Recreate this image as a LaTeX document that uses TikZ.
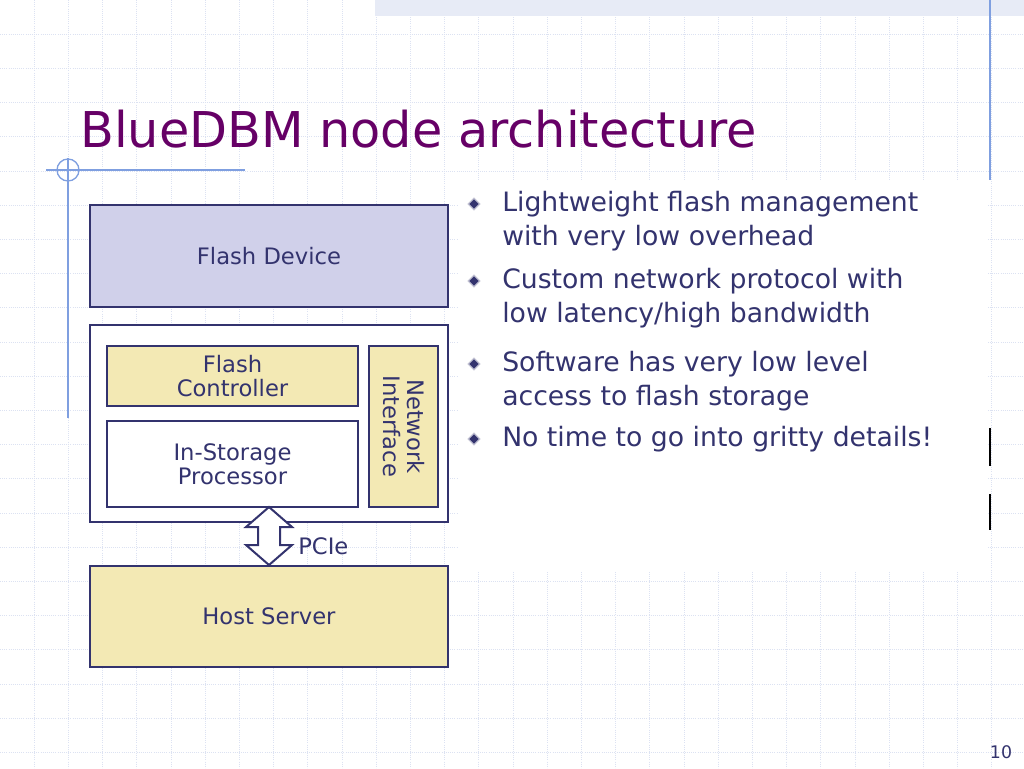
\documentclass[tikz,border=0pt]{standalone}
\usepackage{fontspec}
\setmainfont{DejaVu Sans}
\usetikzlibrary{shapes.geometric}
\definecolor{ink}{HTML}{33336E}
\definecolor{ttl}{HTML}{660066}
\definecolor{grid}{HTML}{DCE2F2}
\definecolor{fdev}{HTML}{D0D0EA}
\definecolor{yel}{HTML}{F3E9B4}
\definecolor{acc}{HTML}{7F9FE0}
\begin{document}
\begin{tikzpicture}[x=0.75pt,y=-0.75pt,
  box/.style={draw=ink,line width=1.5pt,inner sep=0pt,text=ink,font=\fontsize{17}{20}\selectfont,align=center},
  bul/.style={anchor=west,text=ink,font=\fontsize{20}{25.5}\selectfont,align=left,inner sep=0pt},
  dia/.style={fill=ink,draw=white!70!ink,line width=1pt,minimum size=9pt,inner sep=0pt,shape=diamond}]
\useasboundingbox (0,0) rectangle (1024,768);
\fill[white] (0,0) rectangle (1024,768);
\foreach \i in {1,...,30} {\draw[grid,densely dotted,line width=0.6pt] (\i*34.2,0) -- (\i*34.2,768);}
\foreach \i in {1,...,22} {\draw[grid,densely dotted,line width=0.6pt] (0,\i*34.2) -- (1024,\i*34.2);}
\fill[white] (458,180) rectangle (988,572);
\fill[grid!70!white] (375,0) rectangle (1024,16);
\draw[acc,line width=1pt] (990,0) -- (990,180);
\draw[black,line width=2pt] (990,428) -- (990,466) (990,494) -- (990,530);
\node[text=ttl,font=\fontsize{37}{40}\selectfont,anchor=base west,inner sep=0pt] (title) at (80,147) {BlueDBM node architecture};
\draw[acc,line width=1pt] (46,170) -- (245,170) (68,158) -- (68,418);
\draw[acc,line width=1pt] (68,170) circle (11);
\node[box,fill=fdev,minimum width=358*0.75pt,minimum height=102*0.75pt] (fd) at (269,256) {Flash Device};
\node[box,fill=white,minimum width=358*0.75pt,minimum height=197*0.75pt] (outer) at (269,423.5) {};
\node[box,fill=yel,minimum width=251*0.75pt,minimum height=60*0.75pt] (fc) at (232.5,376) {Flash\\[-2pt]Controller};
\node[box,fill=white,minimum width=251*0.75pt,minimum height=86*0.75pt] (isp) at (232.5,464) {In-Storage\\[-2pt]Processor};
\node[box,fill=yel,minimum width=69*0.75pt,minimum height=161*0.75pt] (ni) at (403.5,426.5) {};
\node[text=ink,font=\fontsize{17}{20}\selectfont,align=center,rotate=-90] (nit) at (ni.center) {Network\\[-2pt]Interface};
\node[box,fill=yel,minimum width=358*0.75pt,minimum height=101*0.75pt] (hs) at (269,616.5) {Host Server};
\draw[ink,line width=1.5pt,fill=white,line join=miter]
 (269,507) -- (292,527) -- (280,527) -- (280,545) -- (292,545) -- (269,565) -- (246,545) -- (258,545) -- (258,527) -- (246,527) -- cycle;
\node[text=ink,font=\fontsize{17}{20}\selectfont,anchor=west,inner sep=0pt] (pcie) at (298,546) {PCIe};
\foreach \y in {204,281,364,439} {\node[dia] at (474,\y) {};}
\node[bul] (b1) at (502,221) {Lightweight flash management\\with very low overhead};
\node[bul] (b2) at (502,298.5) {Custom network protocol with\\low latency/high bandwidth};
\node[bul] (b3) at (502,381) {Software has very low level\\access to flash storage};
\node[bul] (b4) at (502,439) {No time to go into gritty details!};
\node[text=ink,font=\fontsize{13}{15}\selectfont,inner sep=0pt] (pg) at (1001,752) {10};
\end{tikzpicture}
\end{document}
